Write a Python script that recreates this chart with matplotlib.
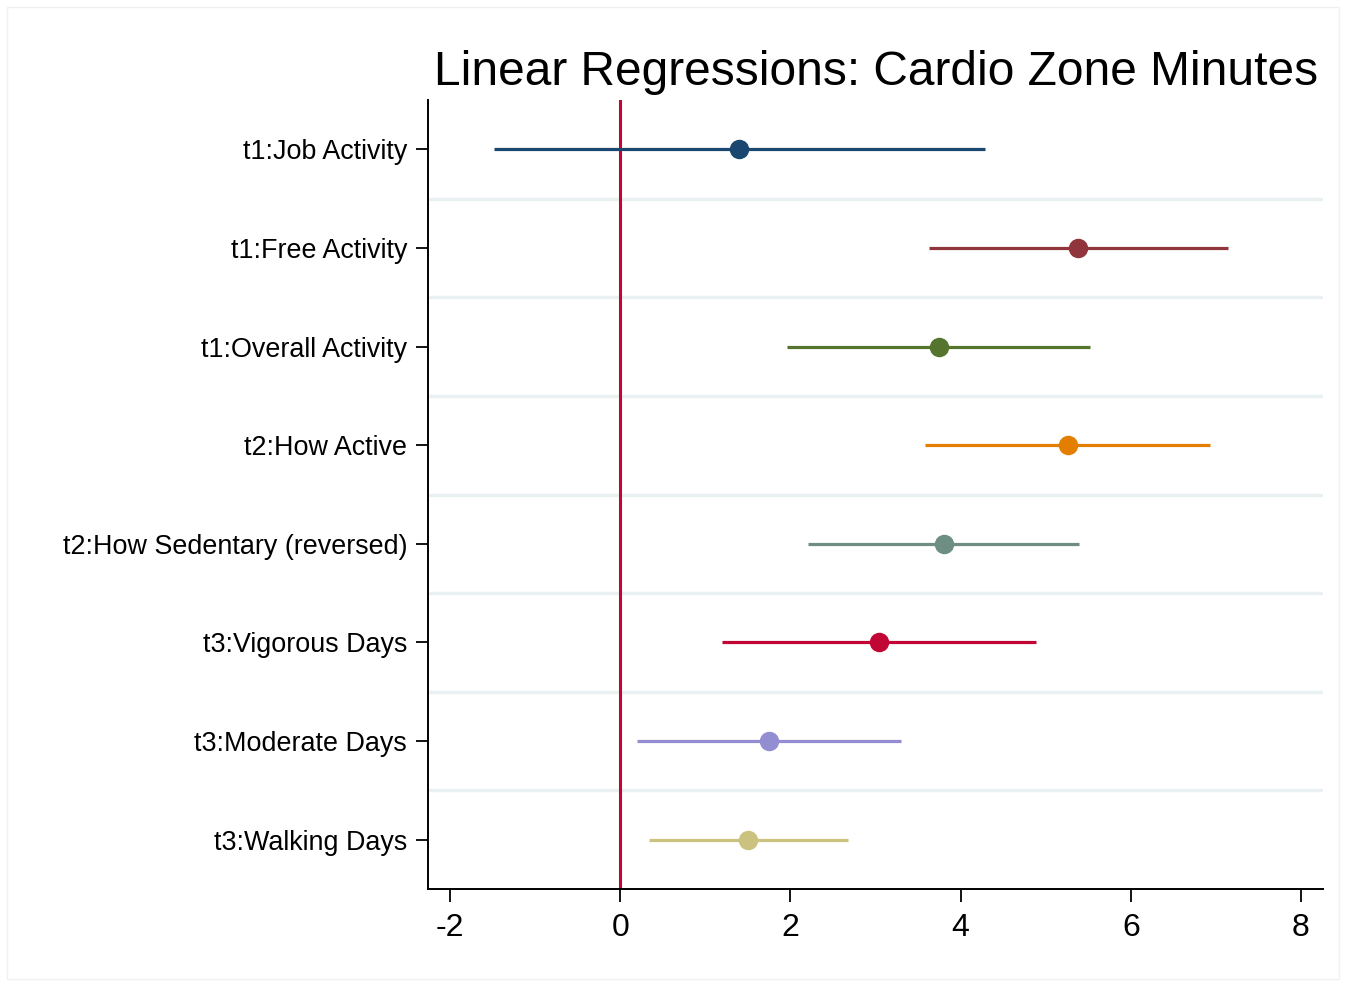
import matplotlib.pyplot as plt
from matplotlib.patches import Rectangle

plt.rcParams['font.family'] = ['Liberation Sans', 'DejaVu Sans']

# Coefficients and 95% confidence intervals, one row per predictor
labels = ['t1:Job Activity', 't1:Free Activity', 't1:Overall Activity',
          't2:How Active', 't2:How Sedentary (reversed)', 't3:Vigorous Days',
          't3:Moderate Days', 't3:Walking Days']
coef = [1.40, 5.38, 3.74, 5.26, 3.80, 3.04, 1.75, 1.50]
ci_low = [-1.49, 3.63, 1.96, 3.58, 2.21, 1.20, 0.20, 0.34]
ci_high = [4.29, 7.14, 5.52, 6.93, 5.39, 4.89, 3.30, 2.68]
colors = ['#1a476f', '#90353b', '#55752f', '#e37e00',
          '#6e8e84', '#c10534', '#938dd2', '#cac27e']

fig = plt.figure(figsize=(13.46, 9.82), dpi=100)
ax = fig.add_axes([0.318, 0.0947, 0.665, 0.8033])

# thin outer frame around the graph region
fig.patches.append(Rectangle((0.005, 0.003), 0.99, 0.99, transform=fig.transFigure,
                             fill=False, edgecolor='#f0f0f0', linewidth=1))

n = len(labels)
ypos = list(range(n))

# light separators between rows
for k in range(n - 1):
    ax.axhline(k + 0.5, color='#eaf1f2', linewidth=2.5, zorder=0)

ax.axvline(0, color='#c10534', linewidth=2.2, zorder=1)

for y, c, lo, hi, col in zip(ypos, coef, ci_low, ci_high, colors):
    ax.plot([lo, hi], [y, y], color=col, linewidth=2.3, solid_capstyle='butt', zorder=2)
    ax.plot(c, y, 'o', color=col, markersize=13, zorder=3)

ax.set_ylim(n - 0.5, -0.5)
ax.set_xlim(-2.26, 8.26)
ax.set_yticks(ypos)
ax.set_yticklabels(labels, fontsize=19.4)
ax.set_xticks([-2, 0, 2, 4, 6, 8])
ax.set_xticklabels(['-2', '0', '2', '4', '6', '8'], fontsize=23)

ax.spines['top'].set_visible(False)
ax.spines['right'].set_visible(False)
ax.spines['left'].set_linewidth(1.4)
ax.spines['bottom'].set_linewidth(1.4)
ax.tick_params(axis='both', length=9, width=1.3)
ax.tick_params(axis='y', pad=6)
ax.tick_params(axis='x', pad=8)

ax.set_title('Linear Regressions: Cardio Zone Minutes', fontsize=34.5, pad=11)

fig.savefig('out.png', dpi=100, facecolor='white')
